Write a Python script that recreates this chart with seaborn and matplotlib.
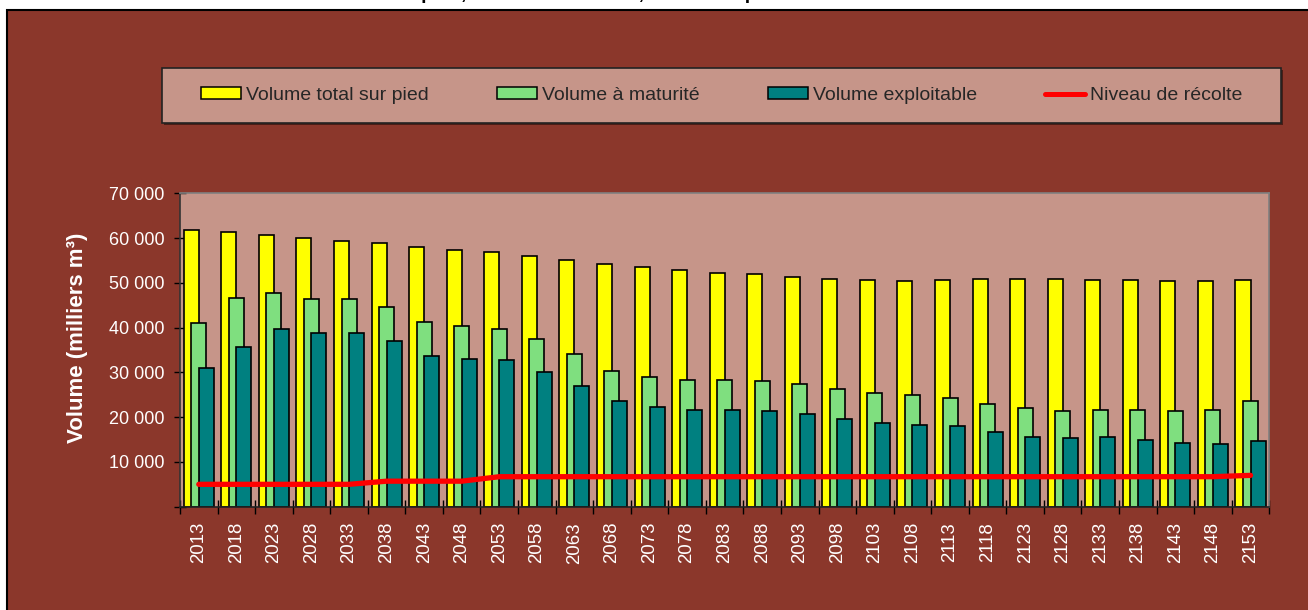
import numpy as np
import pandas as pd
import seaborn as sns
import matplotlib.pyplot as plt
from matplotlib.patches import Rectangle, Patch
from matplotlib.lines import Line2D
from matplotlib.ticker import FuncFormatter, FixedLocator

# data (milliers m3)
years = [2013, 2018, 2023, 2028, 2033, 2038, 2043, 2048, 2053, 2058,
         2063, 2068, 2073, 2078, 2083, 2088, 2093, 2098, 2103, 2108,
         2113, 2118, 2123, 2128, 2133, 2138, 2143, 2148, 2153]
vol_total = [61700, 61400, 60700, 60000, 59300, 58900, 58000, 57300, 56900, 56000,
             55000, 54300, 53600, 52900, 52300, 52000, 51300, 50900, 50600, 50300,
             50600, 50900, 50900, 50900, 50600, 50600, 50300, 50300, 50600]
vol_maturite = [41000, 46700, 47700, 46300, 46300, 44600, 41300, 40300, 39700, 37400,
                34000, 30300, 29000, 28300, 28300, 28000, 27300, 26300, 25300, 24900,
                24300, 23000, 22000, 21300, 21700, 21700, 21300, 21700, 23700]
vol_exploitable = [31000, 35600, 39700, 38700, 38700, 37000, 33700, 33000, 32700, 30000,
                   27000, 23600, 22300, 21600, 21600, 21300, 20600, 19600, 18600, 18300,
                   18000, 16600, 15600, 15300, 15600, 14900, 14300, 13900, 14600]
recolte = [5000, 5000, 5000, 5000, 5000, 5700, 5700, 5700, 6700, 6700,
           6700, 6700, 6700, 6700, 6700, 6700, 6700, 6700, 6700, 6700,
           6700, 6700, 6700, 6700, 6700, 6700, 6700, 6700, 7000]
series_labels = ["Volume total sur pied", "Volume à maturité",
                 "Volume exploitable", "Niveau de récolte"]
y_ticks = [0, 10000, 20000, 30000, 40000, 50000, 60000, 70000]

BROWN = "#8B372B"
PINK = "#C69589"
YELLOW = "#FFFF00"
GREEN = "#7FDF7F"
TEAL = "#008080"
RED = "#FF0000"

sns.set_style("ticks")
plt.rcParams["font.family"] = ["Liberation Sans", "DejaVu Sans"]

W, H = 1308, 610
fig = plt.figure(figsize=(W / 100, H / 100), dpi=100)
fig.patch.set_facecolor("white")

# brown chart area with black frame (top/left visible)
fig.patches.append(Rectangle((7 / W, -0.01), 1.02, (H - 10) / H + 0.01,
                             transform=fig.transFigure, facecolor=BROWN,
                             edgecolor="black", linewidth=1.5, zorder=-2))

# title, mostly cut off by the top edge (as in the original)
fig.text(311 / W, 1.0 + 1 / H, "Volume sur pied, volume à maturité, volume exploitable",
         ha="left", va="baseline", fontsize=14, fontweight="bold", color="black")

# legend box + shadow
lx0, lx1, ly0, ly1 = 162.3, 1281, 67.7, 123
fig.patches.append(Rectangle(((lx0 + 2) / W, (H - ly1 - 2) / H), (lx1 - lx0) / W,
                             (ly1 - ly0) / H, transform=fig.transFigure,
                             facecolor="#4a1d16", edgecolor="none", zorder=1))
fig.patches.append(Rectangle((lx0 / W, (H - ly1) / H), (lx1 - lx0) / W,
                             (ly1 - ly0) / H, transform=fig.transFigure,
                             facecolor=PINK, edgecolor="#222222", linewidth=1.2, zorder=2))

ax = fig.add_axes([180 / W, (H - 506.7) / H, (1269.3 - 180) / W, (506.7 - 193.3) / H])
ax.set_zorder(1)
ax.set_facecolor(PINK)

yrs = np.array(years)
step = yrs[1] - yrs[0]
df = pd.DataFrame({"annee": yrs, "total": vol_total, "maturite": vol_maturite,
                   "exploitable": vol_exploitable, "recolte": recolte})

# overlapping bars: each 0.4 of a category wide, shifted by 0.2
for col, shift, colr in [("total", -0.2, YELLOW), ("maturite", 0.0, GREEN),
                         ("exploitable", 0.2, TEAL)]:
    sns.barplot(x=df["annee"] + shift * step, y=df[col], native_scale=True,
                orient="x", width=0.4, color=colr, saturation=1,
                edgecolor="black", linewidth=1.2, errorbar=None, ax=ax)

sns.lineplot(x=df["annee"], y=df["recolte"], color=RED, linewidth=3.8,
             ax=ax, legend=False, zorder=5)

ax.set_xlim(yrs[0] - step / 2, yrs[-1] + step / 2)
ax.set_ylim(0, 70000)
ax.set_yticks(y_ticks)
ax.yaxis.set_major_formatter(FuncFormatter(
    lambda v, p: "" if v == 0 else f"{int(v):,}".replace(",", " ")))
ax.set_xticks(yrs)
ax.set_xticklabels([str(y) for y in years], rotation=90)
ax.xaxis.set_minor_locator(FixedLocator(np.append(yrs - step / 2, yrs[-1] + step / 2)))

ax.tick_params(axis="x", which="major", length=0, pad=11, labelsize=13.4, colors="white")
ax.tick_params(axis="x", which="minor", direction="inout", length=9.4, width=1, color="black")
ax.tick_params(axis="y", direction="inout", length=8.6, width=1, pad=7,
               labelsize=13, color="black", labelcolor="white")

ax.set_xlabel("")
ax.set_ylabel("Volume (milliers m³)", fontsize=16, fontweight="bold", color="white")
ax.yaxis.set_label_coords(-0.0842, 0.538)

for side in ["top", "right"]:
    ax.spines[side].set_color("#808080")
    ax.spines[side].set_linewidth(1.2)
ax.spines["left"].set_color("#333333")
ax.spines["bottom"].set_color("#222222")
ax.spines["left"].set_linewidth(1.2)
ax.spines["bottom"].set_linewidth(1.2)

handles = [Patch(facecolor=YELLOW, edgecolor="black", linewidth=1.1),
           Patch(facecolor=GREEN, edgecolor="black", linewidth=1.1),
           Patch(facecolor=TEAL, edgecolor="black", linewidth=1.1),
           Line2D([0], [0], color=RED, linewidth=3.6)]
leg = fig.legend(handles, series_labels, loc="center",
                 bbox_to_anchor=((lx0 + lx1) / 2 / W, 1 - 95.5 / H),
                 ncol=4, frameon=False, fontsize=14, handlelength=2.06,
                 handleheight=0.6, handletextpad=0.26, columnspacing=3.5)
leg.set_zorder(3)

fig.savefig("out.png", dpi=100, facecolor=fig.get_facecolor())
